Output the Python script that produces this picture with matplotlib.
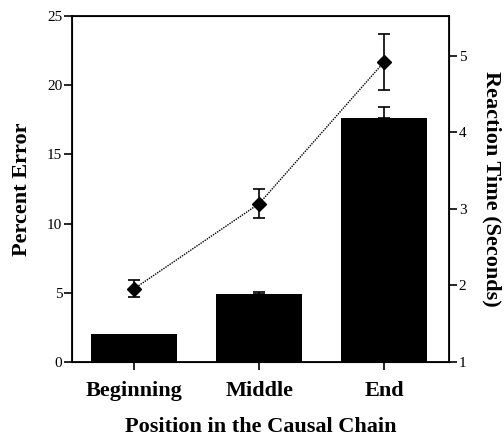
import matplotlib.pyplot as plt
import numpy as np

categories = ['Beginning', 'Middle', 'End']
percent_error = [2.05, 4.9, 17.65]
percent_error_sem = [0.0, 0.17, 0.8]
reaction_time = [1.96, 3.07, 4.92]
reaction_time_sem = [0.115, 0.19, 0.37]

plt.rcParams['font.family'] = ['Liberation Serif', 'DejaVu Serif']

fig = plt.figure(figsize=(5.04, 4.37), dpi=100)
ax = fig.add_axes([72 / 504, 1 - 362 / 437, (449 - 72) / 504, (362 - 16) / 437])
x = np.arange(len(categories))

ax.bar(x, percent_error, width=0.69, color='black', zorder=2)
ax.errorbar(x[1:], percent_error[1:], yerr=[np.zeros(2), percent_error_sem[1:]], fmt='none',
            ecolor='black', elinewidth=1.2, capsize=4, capthick=1.2, zorder=3)
ax.set_xlim(-0.5, 2.52)
ax.set_ylim(0, 25)
ax.set_yticks([0, 5, 10, 15, 20, 25])
ax.set_xticks(x)
ax.set_xticklabels(categories, fontsize=16, fontweight='bold')
ax.tick_params(axis='y', direction='out', length=6, width=1.2, labelsize=11, pad=1)
ax.tick_params(axis='x', direction='out', length=6, width=1.2, pad=8)
for s in ax.spines.values():
    s.set_linewidth(1.3)
ax.set_ylabel('Percent Error', fontsize=16, fontweight='bold', labelpad=11)
ax.set_xlabel('Position in the Causal Chain', fontsize=16, fontweight='bold', labelpad=11)

ax2 = ax.twinx()
ax2.errorbar(x, reaction_time, yerr=reaction_time_sem, fmt='D', color='black',
             markersize=7.5, ecolor='black', elinewidth=1.2, capsize=4.3, capthick=1.2, zorder=4)
ax2.plot(x, reaction_time, color='black', linestyle=(0, (1, 0.8)), linewidth=1)
ax2.set_ylim(1, 5.52)
ax2.set_yticks([1, 2, 3, 4, 5])
ax2.tick_params(axis='y', direction='out', length=6, width=1.2, labelsize=11, pad=1)
ax2.set_ylabel('Reaction Time (Seconds)', fontsize=16, fontweight='bold',
               rotation=-90, labelpad=25)

fig.savefig('out.png', dpi=100)
